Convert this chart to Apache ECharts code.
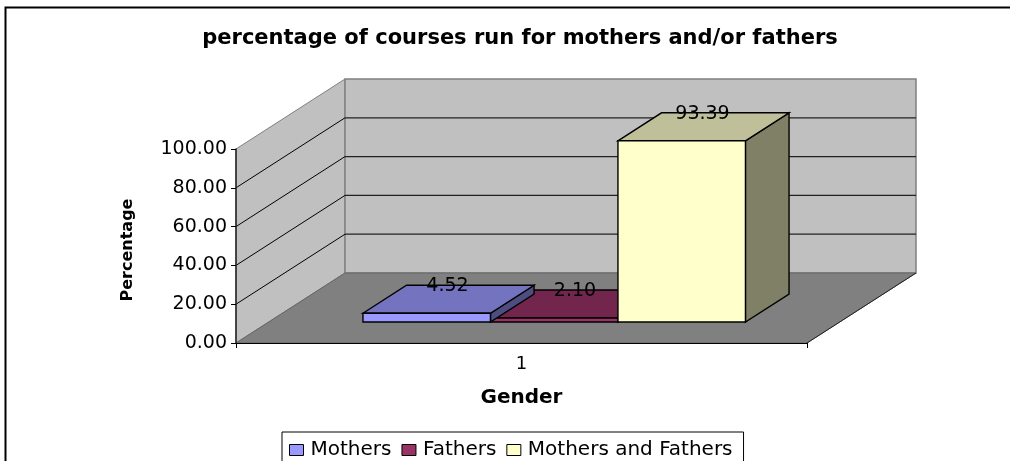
<!DOCTYPE html>
<html>
<head>
<meta charset="utf-8">
<style>html,body{margin:0;padding:0;background:#fff;overflow:hidden}#c{width:1010px;height:461px}</style>
<script src="https://cdn.jsdelivr.net/npm/echarts@6/dist/echarts.min.js"></script>
</head>
<body>
<div id="c"></div>
<script>
const chartTitle = 'percentage of courses run for mothers and/or fathers';
const categories = ['1'];
const seriesNames = ['Mothers', 'Fathers', 'Mothers and Fathers'];
const mothers = [4.52];
const fathers = [2.10];
const mothersAndFathers = [93.39];
const valueTicks = [0, 20, 40, 60, 80, 100];
const xTitle = 'Gender';
const yTitle = 'Percentage';

const FONT = '"DejaVu Sans", "Liberation Sans", sans-serif';
const DX = 109, DY = -70;           // depth of the floor
const BAR_START = 0.3, BAR_DEPTH = 0.4;
const BAR_RATIO = 127.5 / 571;

const chart = echarts.init(document.getElementById('c'), null, {renderer: 'canvas'});

function poly(points, fill, stroke, lw) {
  return {type: 'polygon', shape: {points}, style: {fill, stroke, lineWidth: lw}};
}
function line(a, b, stroke, lw) {
  return {type: 'line', shape: {x1: a[0], y1: a[1], x2: b[0], y2: b[1]}, style: {stroke, lineWidth: lw}};
}
function renderWalls(params, api) {
  const p00 = api.coord([0, 0]);
  const catW = api.size([1, 0])[0];
  const x0 = p00[0] - catW / 2, x1 = p00[0] + catW / 2;
  const y = v => api.coord([0, v])[1];
  const top = y(valueTicks[valueTicks.length - 1]), bot = y(0);
  const kids = [
    poly([[x0, bot], [x0, top], [x0 + DX, top + DY], [x0 + DX, bot + DY]], '#c0c0c0', '#808080', 1),
    poly([[x0 + DX, top + DY], [x1 + DX, top + DY], [x1 + DX, bot + DY], [x0 + DX, bot + DY]], '#c0c0c0', '#808080', 1.5),
    poly([[x0, bot], [x1, bot], [x1 + DX, bot + DY], [x0 + DX, bot + DY]], '#808080', '#666', 1)
  ];
  valueTicks.slice(1, -1).forEach(v => {
    const yy = y(v);
    kids.push(line([x0, yy], [x0 + DX, yy + DY], '#000', 1));
    kids.push(line([x0 + DX, yy + DY], [x1 + DX, yy + DY], '#222', 1.2));
  });
  kids.push(line([x1, bot], [x1 + DX, bot + DY], '#222', 1));
  return {type: 'group', children: kids};
}
function barRenderer(idx, front, topc, side) {
  return function (params, api) {
    const val = api.value(1);
    const c = api.coord([0, 0]);
    const catW = api.size([1, 0])[0];
    const w = catW * BAR_RATIO;
    const left = c[0] - w * 1.5 + idx * w + DX * BAR_START;
    const base = c[1] + DY * BAR_START;
    const h = c[1] - api.coord([0, val])[1];
    const right = left + w, tp = base - h;
    const bx = DX * BAR_DEPTH, by = DY * BAR_DEPTH;
    return {type: 'group', children: [
      poly([[right, tp], [right + bx, tp + by], [right + bx, base + by], [right, base]], side, '#000', 1.4),
      poly([[left, tp], [left + bx, tp + by], [right + bx, tp + by], [right, tp]], topc, '#000', 1.4),
      poly([[left, tp], [right, tp], [right, base], [left, base]], front, '#000', 1.4),
      {type: 'text', style: {x: (left + right) / 2 + bx / 2 - 1, y: tp + by + 1, text: val.toFixed(2), fill: '#000',
        font: '19px ' + FONT, textAlign: 'center', textVerticalAlign: 'middle'}, z2: 50}
    ]};
  };
}
function barSeries(name, values, idx, z, front, topc, side) {
  return {name, type: 'custom', z, coordinateSystem: 'cartesian2d', itemStyle: {color: front},
    encode: {x: 0, y: 1}, renderItem: barRenderer(idx, front, topc, side),
    data: categories.map((c, i) => [i, values[i]]), clip: false};
}

chart.setOption({
  animation: false,
  backgroundColor: '#fff',
  title: {text: chartTitle, left: 515, top: 23, textAlign: 'center',
    textStyle: {fontFamily: FONT, fontWeight: 'bold', fontSize: 21, color: '#000'}},
  graphic: [{type: 'rect', shape: {x: 5.5, y: 7.5, width: 1100, height: 600}, z: -1,
    style: {fill: '#fff', stroke: '#000', lineWidth: 2}}],
  grid: {left: 236, right: 203, top: 149, bottom: 118},
  legend: {left: 282, top: 432, orient: 'horizontal', padding: [8, 11, 12, 7], itemGap: 10, itemWidth: 14, itemHeight: 11,
    borderColor: '#000', borderWidth: 1, icon: 'rect', selectedMode: false, data: seriesNames,
    itemStyle: {borderColor: '#000', borderWidth: 1},
    textStyle: {fontFamily: FONT, fontSize: 20, color: '#000', padding: [0, 0, 0, 2]}},
  xAxis: {type: 'category', data: categories, name: xTitle, nameLocation: 'middle', nameGap: 45, z: 20,
    nameTextStyle: {fontFamily: FONT, fontWeight: 'bold', fontSize: 20, color: '#000'},
    axisLine: {lineStyle: {color: '#000', width: 1.2}}, axisTick: {show: true, length: 5, lineStyle: {color: '#000'}},
    axisLabel: {fontFamily: FONT, fontSize: 18, color: '#000', margin: 12}, splitLine: {show: false}},
  yAxis: {type: 'value', min: 0, max: 100, interval: 20, name: yTitle, nameLocation: 'middle', nameGap: 100, nameRotate: 90, z: 20,
    nameTextStyle: {fontFamily: FONT, fontWeight: 'bold', fontSize: 16, color: '#000', padding: [0, 8, 0, 0]},
    axisLine: {show: true, lineStyle: {color: '#222', width: 1.5}}, axisTick: {show: true, length: 5, lineStyle: {color: '#000'}},
    axisLabel: {fontFamily: FONT, fontSize: 19, color: '#000', margin: 9, formatter: v => v.toFixed(2)},
    splitLine: {show: false}},
  series: [
    {type: 'custom', z: 1, silent: true, renderItem: renderWalls, data: [[0, 0]], encode: {x: 0, y: 1}, clip: false, legendHoverLink: false},
    barSeries(seriesNames[1], fathers, 1, 2, '#993366', '#73264d', '#4d1a33'),
    barSeries(seriesNames[0], mothers, 0, 3, '#9999ff', '#7373bf', '#4d4d80'),
    barSeries(seriesNames[2], mothersAndFathers, 2, 4, '#ffffcc', '#bfbf99', '#808066')
  ]
});
</script>
</body>
</html>
